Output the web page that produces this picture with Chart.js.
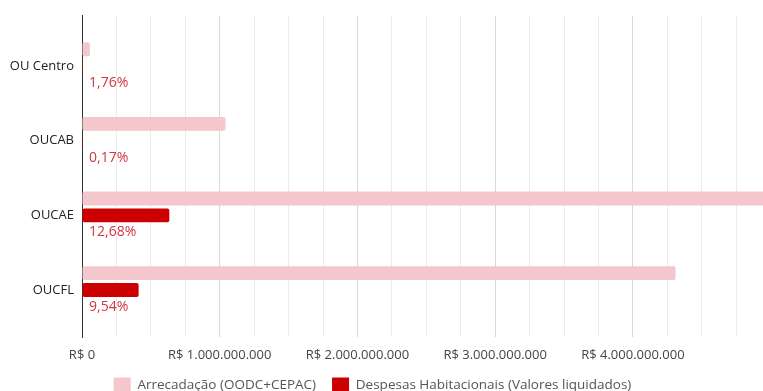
<!DOCTYPE html>
<html>
<head>
<meta charset="utf-8">
<script src="https://cdn.jsdelivr.net/npm/chart.js@4/dist/chart.umd.min.js"></script>
<style>
  html, body { margin: 0; padding: 0; background: #fff; overflow: hidden; }
  canvas { display: block; }
</style>
</head>
<body>
<canvas id="grafico" width="763" height="391"></canvas>
<script>
// Operações urbanas e valores (R$)
const operacoes = ['OU Centro', 'OUCAB', 'OUCAE', 'OUCFL'];
const arrecadacao = [57000000, 1042000000, 5000000000, 4310000000];
const despesas = [1003000, 1771000, 634000000, 411200000];
const nomesSeries = ['Arrecadação (OODC+CEPAC)', 'Despesas Habitacionais (Valores liquidados)'];
const rotulosEixo = ['R$ 0', 'R$ 1.000.000.000', 'R$ 2.000.000.000', 'R$ 3.000.000.000', 'R$ 4.000.000.000'];

const FONTE = "'Open Sans', 'DejaVu Sans', sans-serif";
const BILHAO = 1e9;
const PASSO_GRADE = 250e6;

// Percentual das despesas sobre a arrecadação, formato brasileiro
const percentuais = despesas.map((d, i) => (d / arrecadacao[i] * 100).toFixed(2).replace('.', ',') + '%');

// Rótulos de percentual desenhados na terceira faixa de cada grupo
const rotulosPercentuais = {
  id: 'rotulosPercentuais',
  afterDatasetsDraw(chart) {
    const meta = chart.getDatasetMeta(2);
    const ctx = chart.ctx;
    ctx.save();
    ctx.font = `14px ${FONTE}`;
    ctx.fillStyle = '#d03640';
    ctx.textAlign = 'left';
    ctx.textBaseline = 'middle';
    meta.data.forEach((el, i) => {
      ctx.fillText(percentuais[i], chart.chartArea.left + 7, el.y);
    });
    ctx.restore();
  }
};

// Deslocamento horizontal da legenda
const posicaoLegenda = {
  id: 'posicaoLegenda',
  afterLayout(chart) {
    const l = chart.legend;
    if (!l) return;
    l.left -= 9; l.right -= 9;
  }
};

const pontos = valores => valores.map((v, i) => ({ x: v, y: i }));

new Chart(document.getElementById('grafico'), {
  type: 'bar',
  data: {
    datasets: [
      {
        label: nomesSeries[0],
        data: pontos(arrecadacao),
        backgroundColor: '#f4c7cc',
        borderWidth: 0,
        borderRadius: 2,
        borderSkipped: false
      },
      {
        label: nomesSeries[1],
        data: pontos(despesas),
        backgroundColor: '#cc0000',
        borderWidth: 0,
        borderRadius: 2,
        borderSkipped: false
      },
      {
        label: '',
        data: pontos(operacoes.map(() => 0)),
        backgroundColor: 'rgba(0,0,0,0)',
        borderWidth: 0
      }
    ]
  },
  options: {
    indexAxis: 'y',
    responsive: false,
    animation: false,
    events: [],
    layout: { padding: { top: 13, right: 0, left: 0, bottom: -11.5 } },
    datasets: { bar: { categoryPercentage: 0.68, barPercentage: 0.82 } },
    scales: {
      x: {
        type: 'linear',
        position: 'bottom',
        min: 0,
        max: 4.945e9,
        afterBuildTicks(scale) {
          const t = [];
          for (let v = 0; v <= scale.max; v += PASSO_GRADE) t.push({ value: v });
          scale.ticks = t;
        },
        afterFit(scale) { scale.height = 24.5; },
        ticks: {
          autoSkip: false,
          maxRotation: 0,
          padding: 10,
          color: '#444',
          font: { family: FONTE, size: 13 },
          callback: v => (v % BILHAO === 0 ? (rotulosEixo[v / BILHAO] || '') : '')
        },
        grid: {
          drawTicks: false,
          lineWidth: 1,
          color: c => {
            const v = c.tick ? c.tick.value : 0;
            if (v === 0) return 'rgba(0,0,0,0)';
            return v % BILHAO === 0 ? '#d9d9d9' : '#ebebeb';
          }
        },
        border: { display: false }
      },
      y: {
        type: 'linear',
        reverse: true,
        offset: false,
        min: -0.675,
        max: 3.63,
        afterBuildTicks(scale) {
          scale.ticks = operacoes.map((_, i) => ({ value: i }));
        },
        afterFit(scale) { scale.width = 82; },
        ticks: {
          autoSkip: false,
          padding: 8,
          color: '#222',
          font: { family: FONTE, size: 13 },
          callback: v => operacoes[v] || ''
        },
        grid: { display: false, drawTicks: false, offset: false },
        border: { display: true, color: '#333', width: 1 }
      }
    },
    plugins: {
      legend: {
        position: 'bottom',
        labels: {
          boxWidth: 17,
          boxHeight: 15,
          padding: 16,
          color: '#555',
          font: { family: FONTE, size: 13.5 },
          filter: item => item.datasetIndex < 2
        }
      },
      tooltip: { enabled: false }
    }
  },
  plugins: [rotulosPercentuais, posicaoLegenda]
});
</script>
</body>
</html>
